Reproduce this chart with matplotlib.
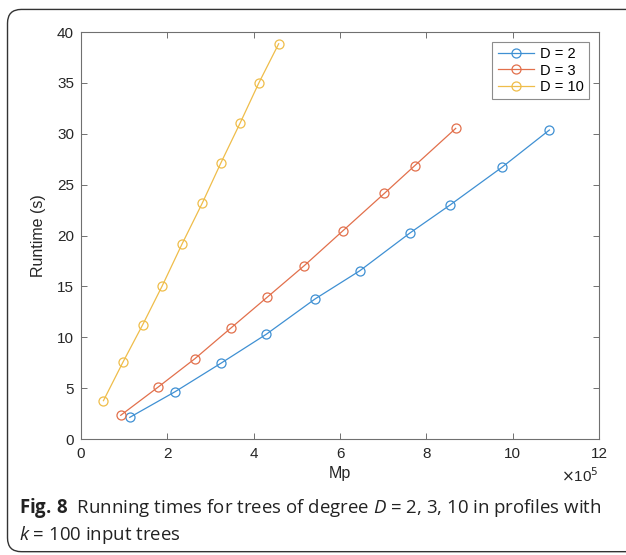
import matplotlib
matplotlib.use("Agg")
import matplotlib.pyplot as plt
from matplotlib.patches import FancyBboxPatch

# values (x in units of 1e5)
mp_d2 = [1.13, 2.18, 3.25, 4.29, 5.42, 6.46, 7.63, 8.55, 9.75, 10.85]
rt_d2 = [2.13, 4.65, 7.47, 10.29, 13.76, 16.54, 20.28, 23.0, 26.7, 30.37]
mp_d3 = [0.92, 1.78, 2.64, 3.47, 4.32, 5.17, 6.06, 7.03, 7.73, 8.68]
rt_d3 = [2.33, 5.08, 7.9, 10.9, 13.96, 17.03, 20.44, 24.15, 26.86, 30.53]
mp_d10 = [0.52, 0.97, 1.43, 1.88, 2.34, 2.81, 3.24, 3.69, 4.12, 4.58]
rt_d10 = [3.77, 7.54, 11.24, 15.04, 19.16, 23.19, 27.13, 31.09, 35.0, 38.85]

labels = ["D = 2", "D = 3", "D = 10"]
colors = ["#3f90d3", "#e2704c", "#efbd4a"]

plt.rcParams['font.family'] = ['Liberation Sans', 'DejaVu Sans']
plt.rcParams['mathtext.fontset'] = 'custom'
plt.rcParams['mathtext.rm'] = 'Open Sans'
plt.rcParams['mathtext.it'] = 'Open Sans:italic'
plt.rcParams['mathtext.bf'] = 'Open Sans:bold'

fig = plt.figure(figsize=(6.26, 5.55), dpi=100)
ax = fig.add_axes([0.1294, 0.209, 0.8275, 0.7333])

series = [(mp_d2, rt_d2), (mp_d3, rt_d3), (mp_d10, rt_d10)]
for (xs, ys), lab, c in zip(series, labels, colors):
    ax.plot([v * 1e5 for v in xs], ys, '-o', color=c, lw=0.9, ms=6.5,
            mfc='none', mec=c, mew=0.9, label=lab)

ax.set_xlim(0, 12e5)
ax.set_ylim(0, 40)
ax.set_xticks([i * 2e5 for i in range(7)])
ax.set_xticklabels([str(i * 2) for i in range(7)])
ax.set_yticks(range(0, 41, 5))
ax.tick_params(direction='in', top=True, right=True, length=4, width=0.7,
               colors='#707070', labelcolor='#262626', labelsize=11)
ax.tick_params(axis='x', pad=6)
ax.tick_params(axis='y', pad=5)
for s in ax.spines.values():
    s.set_color('#707070')
    s.set_linewidth(0.8)

ax.set_xlabel('Mp', fontsize=11.5, color='#262626', labelpad=3)
ax.set_ylabel('Runtime (s)', fontsize=11.5, color='#262626', labelpad=8)
ax.text(1.0, -0.091, r'$\times$10$^{5}$', transform=ax.transAxes, ha='right',
        va='center', fontsize=11, color='#262626', family='Liberation Sans',
        math_fontfamily='dejavusans')

leg = ax.legend(loc='upper right', fontsize=10.5, frameon=True, fancybox=False,
                edgecolor='#707070', borderpad=0.35, handlelength=2.5,
                labelspacing=0.15, handletextpad=0.4, borderaxespad=0.7)
leg.get_frame().set_linewidth(0.8)

# caption
fig.text(0.031, 0.0757, r"$\mathbf{Fig.\,8}$  Running times for trees of degree $D$ = 2, 3, 10 in profiles with",
         fontsize=13.4, family='Open Sans', color='#222222', va='baseline')
fig.text(0.031, 0.027, r"$k$ = 100 input trees", fontsize=13.4, family='Open Sans',
         color='#222222', va='baseline')

# rounded border around the figure, open to the right edge
border = FancyBboxPatch((0.012, 0.006), 1.1, 0.977, transform=fig.transFigure,
                        boxstyle='round,pad=0,rounding_size=0.022',
                        fill=False, edgecolor='#333333', lw=1.0,
                        mutation_aspect=626 / 555)
fig.patches.append(border)

fig.savefig('out.png', dpi=100)
